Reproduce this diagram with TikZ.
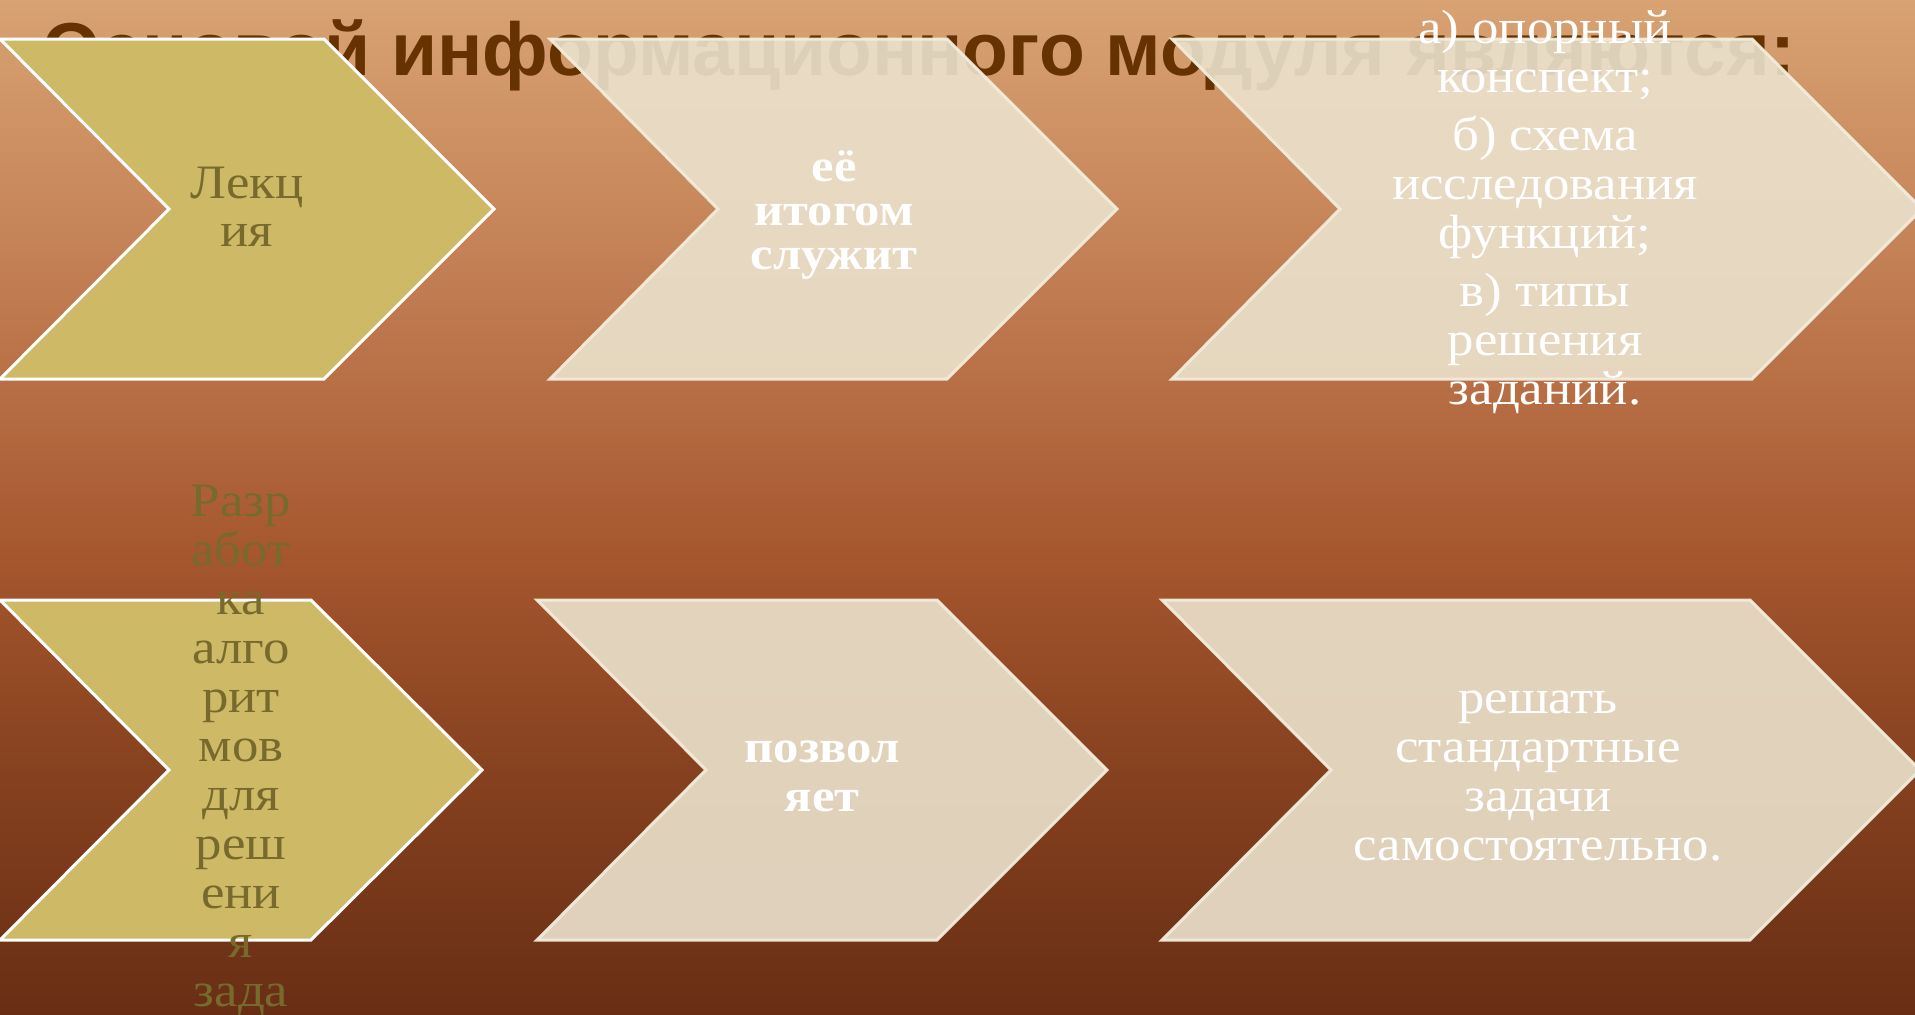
\documentclass[tikz,border=0pt]{standalone}
\usepackage{fontspec}
\setmainfont{Liberation Serif}[FakeStretch=1.1]
\newfontfamily\titlefont{Liberation Sans}
\definecolor{bgA}{RGB}{104,46,20}
\definecolor{bgB}{RGB}{135,66,32}
\definecolor{bgC}{RGB}{165,86,45}
\definecolor{bgD}{RGB}{182,108,66}
\definecolor{bgE}{RGB}{200,136,92}
\definecolor{bgF}{RGB}{216,162,114}
\definecolor{gold}{RGB}{206,185,102}
\definecolor{olivetxt}{RGB}{119,106,44}
\definecolor{cream}{RGB}{235,226,205}
\definecolor{creamline}{RGB}{242,236,220}
\definecolor{titlebrown}{RGB}{102,51,0}
\pgfdeclareverticalshading{bgshade}{100bp}{color(0bp)=(bgA); color(25bp)=(bgA); color(37.5bp)=(bgB); color(47.5bp)=(bgC); color(55bp)=(bgD); color(65bp)=(bgE); color(75bp)=(bgF); color(100bp)=(bgF)}
\begin{document}
\begin{tikzpicture}[x=1pt,y=-1pt,
  goldchev/.style={fill=gold, draw=white, line width=3pt, line join=miter},
  creamchev/.style={fill=cream, fill opacity=0.9, draw=creamline, draw opacity=0.95, line width=3pt, line join=miter},
  goldtxt/.style={text=olivetxt, align=center, inner sep=0pt, font=\fontsize{48}{49}\selectfont},
  whitetxt/.style={text=white, align=center, inner sep=0pt, font=\fontsize{48}{49}\selectfont},
  boldtxt/.style={text=white, align=center, inner sep=0pt, font=\fontsize{46}{44}\selectfont\bfseries},
  titletxt/.style={text=titlebrown, inner sep=0pt, font=\titlefont\fontsize{75}{80}\selectfont\bfseries}]
\useasboundingbox (0,0) rectangle (1915,1015);
\clip (0,0) rectangle (1915,1015);
\shade[shading=bgshade] (0,0) rectangle (1915,1015);
% title
\node[titletxt, anchor=base west] (title) at (42,75) {Основой информационного модуля являются:};
% top row
\path[goldchev] (0,39) -- (324,39) -- (494,209) -- (324,379) -- (0,379) -- (169,209) -- cycle;
\path[creamchev] (550,39) -- (947,39) -- (1117,209) -- (947,379) -- (550,379) -- (718,209) -- cycle;
\path[creamchev] (1172,39) -- (1752,39) -- (1922,209) -- (1752,379) -- (1172,379) -- (1340,209) -- cycle;
% bottom row
\path[goldchev] (0,600) -- (311,600) -- (482,770) -- (311,940) -- (0,940) -- (169,770) -- cycle;
\path[creamchev] (537,600) -- (937,600) -- (1107,770) -- (937,940) -- (537,940) -- (706,770) -- cycle;
\path[creamchev] (1162,600) -- (1750,600) -- (1920,770) -- (1750,940) -- (1162,940) -- (1331,770) -- cycle;
% texts
\node[goldtxt, font=\fontsize{48}{48}\selectfont] (t1) at (247,207) {Лекц\\ия};
\node[boldtxt] (t2) at (834,215) {её\\итогом\\служит};
\node[whitetxt] (t3) at (1545,212) {а) опорный\\конспект;\\[9pt]б) схема\\исследования\\функций;\\[9pt]в) типы\\решения\\заданий.};
\node[goldtxt] (t4) at (241,750) {Разр\\абот\\ка\\алго\\рит\\мов\\для\\реш\\ени\\я\\зада};
\node[boldtxt, font=\fontsize{46}{49}\selectfont\bfseries] (t5) at (822,776) {позвол\\яет};
\node[whitetxt] (t6) at (1538,776) {решать\\стандартные\\задачи\\самостоятельно.};
\end{tikzpicture}
\end{document}
